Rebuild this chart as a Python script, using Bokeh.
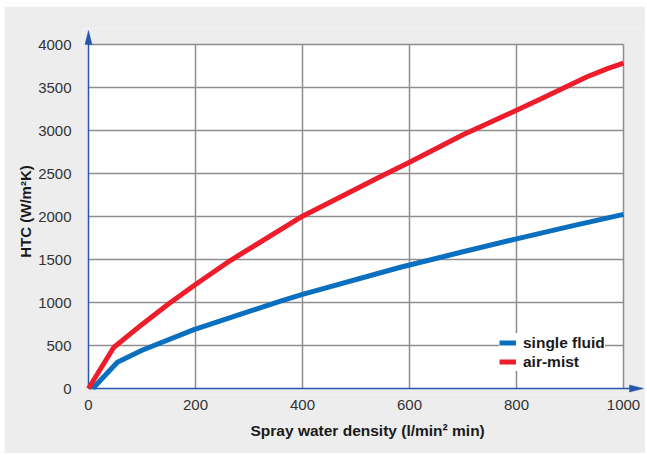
from bokeh.plotting import figure
from bokeh.layouts import column, row
from bokeh.models import Range1d, Legend, LegendItem, Title, FixedTicker, BoxAnnotation, Grid, Spacer
from bokeh.embed import file_html
from bokeh.resources import INLINE

# data
single_x = [8, 54, 100, 197, 265, 359, 400, 583, 700, 800, 900, 1000]
single_y = [0, 306, 445, 685, 825, 1015, 1095, 1410, 1590, 1740, 1885, 2025]
mist_x = [0, 47, 100, 150, 200, 265, 400, 546, 600, 700, 800, 850, 888, 932, 970, 1000]
mist_y = [0, 477, 745, 985, 1210, 1488, 2003, 2465, 2631, 2950, 3235, 3380, 3495, 3625, 3720, 3783]
x_ticks = [0, 200, 400, 600, 800, 1000]
y_ticks = [0, 500, 1000, 1500, 2000, 2500, 3000, 3500, 4000]

BLUE_AX = "#2557ad"
GRID = "#8e8e8e"
BG = "#ededed"
FONT = "Liberation Sans"
X_MAX, Y_MAX = 1000, 4000
SX, SY = 0.535, 0.086          # px per data unit
PAD = 6                          # px of frame left of / below the origin (room for arrow heads)
FW, FH = 562, 366
dx, dy = 1 / SX, 1 / SY
X_START, Y_START = -PAD * dx, -PAD * dy
X_END, Y_END = X_START + FW * dx, Y_START + FH * dy

p = figure(frame_width=FW, frame_height=FH, output_backend="svg", toolbar_location=None,
           x_range=Range1d(X_START, X_END), y_range=Range1d(Y_START, Y_END),
           min_border_left=78, min_border_right=1, min_border_top=22, min_border_bottom=59)
p.border_fill_color = BG
p.background_fill_color = BG
p.outline_line_color = None

# white plotting box
p.add_layout(BoxAnnotation(left=0, right=X_MAX, bottom=0, top=Y_MAX, fill_color="white",
                           fill_alpha=1, line_color=None, level="image"))

# grid (skip the lines that sit on the axes)
gx = [t for t in x_ticks if t > 0]
gy = [t for t in y_ticks if t > 0]
p.grid.visible = False
if "cross_bounds" in Grid.properties():
    p.add_layout(Grid(dimension=0, ticker=FixedTicker(ticks=gx), cross_bounds=(0, Y_MAX),
                      grid_line_color=GRID, grid_line_width=1.5))
    p.add_layout(Grid(dimension=1, ticker=FixedTicker(ticks=gy), cross_bounds=(0, X_MAX),
                      grid_line_color=GRID, grid_line_width=1.5))
else:
    p.segment(x0=gx, y0=[0] * len(gx), x1=gx, y1=[Y_MAX] * len(gx),
              line_color=GRID, line_width=1.5, level="underlay")
    p.segment(x0=[0] * len(gy), y0=gy, x1=[X_MAX] * len(gy), y1=gy,
              line_color=GRID, line_width=1.5, level="underlay")

x_tip = X_MAX + 20 * dx
y_tip = Y_MAX + 14 * dy

for ax in (p.xaxis[0], p.yaxis[0]):
    ax.axis_line_color = None
    ax.major_tick_line_color = None
    ax.minor_tick_line_color = None
    ax.major_label_text_font = FONT
    ax.major_label_text_font_size = "15px"
    ax.major_label_text_color = "#333333"

p.xaxis.ticker = FixedTicker(ticks=x_ticks)
p.yaxis.ticker = FixedTicker(ticks=y_ticks)
p.xaxis.major_label_standoff = 5 - PAD
p.yaxis.major_label_standoff = 11 - PAD

p.yaxis.axis_label = "HTC (W/m\u00b2K)"
p.yaxis.axis_label_text_font = FONT
p.yaxis.axis_label_text_font_style = "bold"
p.yaxis.axis_label_text_font_size = "15px"
p.yaxis.axis_label_text_color = "#1a1a1a"
p.yaxis.axis_label_standoff = 1

# axis lines with arrow heads
p.segment(x0=[0, 0], y0=[0, 0], x1=[0, x_tip - 8 * dx], y1=[y_tip - 8 * dy, 0],
          line_color=BLUE_AX, line_width=1.5)
p.patches(xs=[[0, -3.5 * dx, 3.5 * dx], [x_tip, x_tip - 14 * dx, x_tip - 14 * dx]],
          ys=[[y_tip, y_tip - 14 * dy, y_tip - 14 * dy], [0, 3.5 * dy, -3.5 * dy]],
          fill_color=BLUE_AX, line_color=BLUE_AX, line_width=0.5)

r1 = p.line(single_x, single_y, line_color="#0a6fbf", line_width=5, line_join="round")
r2 = p.line(mist_x, mist_y, line_color="#ee1d2b", line_width=5, line_join="round")

p.add_layout(Title(text="Spray water density (l/min\u00b2 min)", align="left", offset=168,
                   text_font=FONT, text_font_style="bold", text_font_size="15.5px",
                   text_color="#1a1a1a", standoff=15), "below")

legend = Legend(items=[LegendItem(label="single fluid", renderers=[r1]),
                       LegendItem(label="air-mist", renderers=[r2])],
                location=(417, 23), padding=10, spacing=0, margin=0,
                glyph_width=17, glyph_height=19, label_height=19, label_standoff=7,
                label_text_font=FONT, label_text_font_style="bold",
                label_text_font_size="15.5px", label_text_color="#1a1a1a",
                border_line_color=None, background_fill_color="white",
                background_fill_alpha=1.0)
p.add_layout(legend)

page = column(Spacer(height=6), row(Spacer(width=4), p, spacing=0), spacing=0)
open("out.html", "w").write(file_html(page, INLINE))
